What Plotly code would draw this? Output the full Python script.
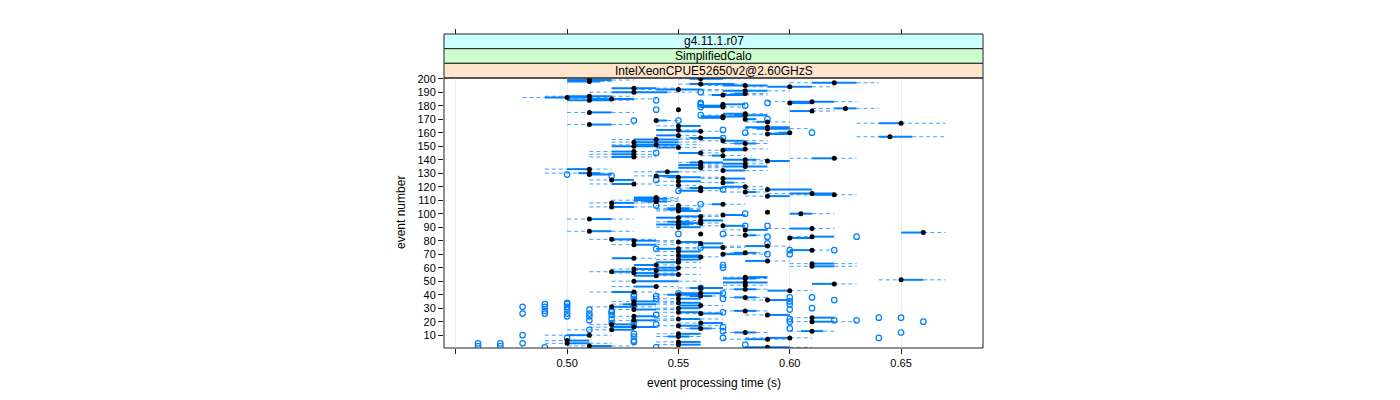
import plotly.graph_objects as go

# ---------------- data ----------------
events = list(range(1, 201))

med = [0.59, 0.51, 0.55, 0.50, 0.55, 0.50, 0.59, 0.60, 0.55, 0.51,
       0.55, 0.58, 0.61, 0.52, 0.56, 0.53, 0.55, 0.52, 0.56, 0.61,
       0.53, 0.55, 0.61, 0.53, 0.59, 0.56, 0.55, 0.58, 0.53, 0.55,
       0.52, 0.56, 0.53, 0.55, 0.53, 0.59, 0.55, 0.58, 0.56, 0.55,
       0.56, 0.53, 0.60, 0.58, 0.56, 0.54, 0.58, 0.62, 0.58, 0.53,
       0.65, 0.58, 0.58, 0.54, 0.55, 0.53, 0.52, 0.54, 0.53, 0.55,
       0.61, 0.54, 0.61, 0.55, 0.59, 0.55, 0.53, 0.56, 0.55, 0.57,
       0.58, 0.55, 0.61, 0.55, 0.57, 0.59, 0.53, 0.56, 0.55, 0.53,
       0.52, 0.60, 0.61, 0.58, 0.56, 0.66, 0.51, 0.58, 0.61, 0.55,
       0.57, 0.55, 0.56, 0.55, 0.56, 0.51, 0.55, 0.56, 0.57, 0.605,
       0.59, 0.55, 0.55, 0.55, 0.52, 0.55, 0.57, 0.52, 0.54, 0.54,
       0.54, 0.54, 0.59, 0.62, 0.61, 0.58, 0.56, 0.59, 0.56, 0.58,
       0.55, 0.53, 0.57, 0.55, 0.52, 0.57, 0.55, 0.54, 0.51, 0.51,
       0.545, 0.57, 0.51, 0.56, 0.58, 0.56, 0.58, 0.56, 0.59, 0.58,
       0.62, 0.53, 0.57, 0.53, 0.56, 0.53, 0.57, 0.58, 0.55, 0.53,
       0.54, 0.58, 0.53, 0.57, 0.54, 0.56, 0.645, 0.55, 0.59, 0.60,
       0.56, 0.55, 0.59, 0.59, 0.55, 0.51, 0.65, 0.59, 0.54, 0.58,
       0.57, 0.57, 0.58, 0.58, 0.51, 0.61, 0.55, 0.625, 0.57, 0.57,
       0.57, 0.60, 0.61, 0.51, 0.52, 0.50, 0.51, 0.57, 0.58, 0.53,
       0.58, 0.55, 0.53, 0.60, 0.58, 0.56, 0.62, 0.51, 0.51, 0.56]

q1 = [0.58, 0.51, 0.55, 0.50, 0.55, 0.50, 0.58, 0.59, 0.545, 0.50,
      0.55, 0.575, 0.605, 0.52, 0.555, 0.52, 0.55, 0.52, 0.56, 0.61,
      0.53, 0.55, 0.61, 0.53, 0.59, 0.56, 0.55, 0.575, 0.53, 0.55,
      0.52, 0.55, 0.525, 0.55, 0.53, 0.59, 0.55, 0.575, 0.555, 0.545,
      0.55, 0.52, 0.59, 0.575, 0.555, 0.53, 0.58, 0.61, 0.57, 0.53,
      0.65, 0.57, 0.58, 0.53, 0.54, 0.53, 0.52, 0.54, 0.53, 0.54,
      0.61, 0.53, 0.61, 0.54, 0.58, 0.55, 0.52, 0.55, 0.55, 0.57,
      0.575, 0.55, 0.60, 0.54, 0.56, 0.58, 0.53, 0.56, 0.55, 0.53,
      0.52, 0.60, 0.61, 0.58, 0.56, 0.65, 0.51, 0.58, 0.60, 0.55,
      0.57, 0.54, 0.55, 0.545, 0.56, 0.51, 0.54, 0.55, 0.57, 0.60,
      0.59, 0.55, 0.545, 0.545, 0.52, 0.55, 0.565, 0.52, 0.535, 0.53,
      0.53, 0.53, 0.59, 0.61, 0.60, 0.58, 0.55, 0.59, 0.555, 0.57,
      0.55, 0.52, 0.57, 0.55, 0.52, 0.57, 0.545, 0.54, 0.51, 0.505,
      0.54, 0.57, 0.50, 0.55, 0.57, 0.55, 0.57, 0.555, 0.59, 0.57,
      0.61, 0.52, 0.565, 0.52, 0.55, 0.52, 0.57, 0.57, 0.54, 0.52,
      0.53, 0.575, 0.53, 0.57, 0.53, 0.555, 0.64, 0.54, 0.59, 0.595,
      0.55, 0.54, 0.585, 0.58, 0.55, 0.51, 0.64, 0.585, 0.54, 0.58,
      0.56, 0.56, 0.575, 0.57, 0.51, 0.60, 0.55, 0.62, 0.56, 0.56,
      0.57, 0.60, 0.60, 0.50, 0.51, 0.49, 0.50, 0.565, 0.575, 0.52,
      0.57, 0.54, 0.52, 0.59, 0.57, 0.555, 0.61, 0.50, 0.50, 0.555]

q3 = [0.60, 0.52, 0.56, 0.51, 0.56, 0.51, 0.59, 0.60, 0.555, 0.51,
      0.56, 0.585, 0.615, 0.53, 0.565, 0.54, 0.56, 0.53, 0.57, 0.62,
      0.54, 0.56, 0.62, 0.54, 0.60, 0.57, 0.56, 0.585, 0.54, 0.56,
      0.53, 0.56, 0.54, 0.56, 0.54, 0.60, 0.56, 0.585, 0.565, 0.56,
      0.57, 0.53, 0.60, 0.585, 0.57, 0.54, 0.58, 0.62, 0.59, 0.55,
      0.66, 0.585, 0.59, 0.54, 0.55, 0.54, 0.53, 0.55, 0.54, 0.55,
      0.62, 0.54, 0.62, 0.55, 0.59, 0.56, 0.53, 0.56, 0.56, 0.58,
      0.585, 0.56, 0.61, 0.55, 0.57, 0.59, 0.54, 0.57, 0.56, 0.54,
      0.53, 0.61, 0.62, 0.585, 0.56, 0.66, 0.52, 0.59, 0.61, 0.56,
      0.58, 0.555, 0.56, 0.555, 0.57, 0.52, 0.55, 0.56, 0.58, 0.61,
      0.59, 0.56, 0.555, 0.555, 0.53, 0.55, 0.57, 0.53, 0.545, 0.54,
      0.545, 0.54, 0.60, 0.62, 0.62, 0.585, 0.56, 0.61, 0.57, 0.58,
      0.55, 0.53, 0.575, 0.56, 0.53, 0.58, 0.56, 0.55, 0.52, 0.515,
      0.55, 0.58, 0.51, 0.56, 0.59, 0.56, 0.58, 0.57, 0.60, 0.585,
      0.62, 0.53, 0.57, 0.53, 0.56, 0.53, 0.58, 0.58, 0.55, 0.54,
      0.55, 0.585, 0.55, 0.58, 0.55, 0.57, 0.655, 0.55, 0.60, 0.60,
      0.56, 0.55, 0.60, 0.60, 0.56, 0.52, 0.65, 0.59, 0.545, 0.585,
      0.57, 0.58, 0.59, 0.58, 0.52, 0.61, 0.55, 0.63, 0.57, 0.57,
      0.58, 0.61, 0.62, 0.52, 0.53, 0.51, 0.52, 0.58, 0.58, 0.545,
      0.59, 0.56, 0.54, 0.61, 0.59, 0.575, 0.63, 0.515, 0.52, 0.57]

lo = [0.58, 0.50, 0.54, 0.49, 0.54, 0.49, 0.57, 0.58, 0.54, 0.49,
      0.54, 0.57, 0.60, 0.50, 0.55, 0.51, 0.54, 0.51, 0.55, 0.60,
      0.52, 0.54, 0.60, 0.52, 0.58, 0.55, 0.54, 0.57, 0.52, 0.54,
      0.51, 0.55, 0.52, 0.54, 0.52, 0.58, 0.54, 0.57, 0.55, 0.54,
      0.55, 0.51, 0.59, 0.57, 0.55, 0.52, 0.57, 0.61, 0.57, 0.52,
      0.64, 0.57, 0.57, 0.53, 0.54, 0.52, 0.51, 0.53, 0.52, 0.54,
      0.60, 0.53, 0.60, 0.54, 0.58, 0.54, 0.52, 0.55, 0.54, 0.57,
      0.57, 0.54, 0.60, 0.54, 0.55, 0.57, 0.52, 0.55, 0.54, 0.52,
      0.51, 0.60, 0.60, 0.57, 0.56, 0.65, 0.50, 0.57, 0.59, 0.54,
      0.56, 0.54, 0.55, 0.54, 0.55, 0.50, 0.54, 0.55, 0.56, 0.60,
      0.59, 0.54, 0.54, 0.54, 0.51, 0.54, 0.56, 0.51, 0.53, 0.52,
      0.53, 0.53, 0.58, 0.60, 0.59, 0.57, 0.55, 0.58, 0.55, 0.57,
      0.54, 0.51, 0.56, 0.54, 0.51, 0.56, 0.54, 0.53, 0.51, 0.49,
      0.53, 0.56, 0.49, 0.55, 0.56, 0.55, 0.56, 0.55, 0.58, 0.57,
      0.60, 0.51, 0.56, 0.51, 0.55, 0.51, 0.56, 0.57, 0.54, 0.52,
      0.52, 0.57, 0.52, 0.56, 0.52, 0.55, 0.63, 0.54, 0.58, 0.59,
      0.55, 0.54, 0.58, 0.58, 0.54, 0.50, 0.63, 0.58, 0.54, 0.58,
      0.56, 0.56, 0.56, 0.57, 0.50, 0.60, 0.55, 0.61, 0.56, 0.56,
      0.57, 0.60, 0.59, 0.50, 0.50, 0.48, 0.49, 0.56, 0.57, 0.51,
      0.56, 0.53, 0.52, 0.58, 0.56, 0.55, 0.60, 0.50, 0.50, 0.55]

hi = [0.61, 0.53, 0.56, 0.52, 0.56, 0.51, 0.60, 0.61, 0.56, 0.52,
      0.56, 0.59, 0.62, 0.53, 0.57, 0.54, 0.57, 0.53, 0.57, 0.63,
      0.55, 0.57, 0.62, 0.55, 0.60, 0.57, 0.57, 0.59, 0.55, 0.56,
      0.54, 0.57, 0.55, 0.56, 0.55, 0.60, 0.56, 0.59, 0.57, 0.56,
      0.57, 0.54, 0.61, 0.59, 0.57, 0.55, 0.59, 0.63, 0.59, 0.56,
      0.67, 0.59, 0.59, 0.55, 0.56, 0.55, 0.53, 0.55, 0.55, 0.56,
      0.63, 0.55, 0.63, 0.56, 0.60, 0.56, 0.54, 0.57, 0.56, 0.59,
      0.59, 0.56, 0.62, 0.56, 0.58, 0.60, 0.55, 0.57, 0.56, 0.55,
      0.54, 0.61, 0.62, 0.59, 0.56, 0.67, 0.53, 0.59, 0.62, 0.56,
      0.58, 0.56, 0.57, 0.56, 0.57, 0.53, 0.56, 0.57, 0.58, 0.62,
      0.59, 0.56, 0.56, 0.56, 0.54, 0.56, 0.58, 0.54, 0.55, 0.55,
      0.55, 0.55, 0.60, 0.63, 0.62, 0.59, 0.57, 0.61, 0.58, 0.59,
      0.56, 0.54, 0.58, 0.56, 0.53, 0.58, 0.57, 0.55, 0.52, 0.52,
      0.56, 0.59, 0.52, 0.57, 0.59, 0.57, 0.59, 0.57, 0.60, 0.59,
      0.63, 0.54, 0.58, 0.54, 0.57, 0.54, 0.58, 0.59, 0.56, 0.55,
      0.56, 0.59, 0.56, 0.59, 0.56, 0.57, 0.67, 0.56, 0.60, 0.60,
      0.57, 0.56, 0.61, 0.60, 0.56, 0.53, 0.67, 0.60, 0.55, 0.585,
      0.57, 0.58, 0.59, 0.59, 0.53, 0.62, 0.55, 0.64, 0.58, 0.57,
      0.58, 0.61, 0.63, 0.53, 0.54, 0.52, 0.53, 0.59, 0.59, 0.56,
      0.60, 0.57, 0.55, 0.62, 0.59, 0.58, 0.64, 0.52, 0.53, 0.58]

out_event = [1, 1, 2, 2, 3, 4, 4, 4, 5, 8, 8, 9, 10, 12, 13, 14, 15, 16, 17,
             18, 19, 20, 21, 21, 21, 22, 23, 23, 24, 24, 25, 26, 26, 26, 26,
             27, 28, 29, 29, 30, 31, 31, 31, 32, 33, 33, 34, 35, 36, 37, 37,
             37, 38, 38, 39, 39, 40, 41, 41, 45, 60, 62, 70, 70, 73, 73, 74,
             75, 78, 83, 83, 85, 85, 91, 91, 100, 106, 107, 117, 118, 125,
             128, 129, 145, 156, 160, 160, 162, 169, 169, 170, 173, 177, 180,
             181, 182, 184, 190,
             22, 25, 28, 6, 11, 20, 8, 27, 20, 29, 33, 182, 179]
out_value = [0.49, 0.54, 0.46, 0.47, 0.58, 0.46, 0.47, 0.48, 0.53, 0.64, 0.50,
             0.53, 0.48, 0.65, 0.57, 0.51, 0.60, 0.57, 0.53, 0.54, 0.52, 0.66,
             0.62, 0.63, 0.51, 0.60, 0.64, 0.65, 0.51, 0.50, 0.54, 0.50, 0.51,
             0.48, 0.49, 0.52, 0.49, 0.50, 0.51, 0.61, 0.49, 0.50, 0.48, 0.53,
             0.50, 0.49, 0.50, 0.60, 0.62, 0.53, 0.54, 0.57, 0.60, 0.61, 0.53,
             0.54, 0.53, 0.55, 0.57, 0.56, 0.57, 0.57, 0.59, 0.60, 0.60, 0.62,
             0.54, 0.56, 0.59, 0.63, 0.59, 0.55, 0.57, 0.58, 0.59, 0.58, 0.54,
             0.56, 0.55, 0.57, 0.54, 0.52, 0.50, 0.54, 0.57, 0.58, 0.61, 0.57,
             0.53, 0.55, 0.59, 0.56, 0.54, 0.58, 0.56, 0.59, 0.54, 0.56,
             0.52, 0.52, 0.52, 0.53, 0.53, 0.53, 0.57, 0.57, 0.60, 0.60, 0.60,
             0.56, 0.56]

x_ticks = [0.45, 0.50, 0.55, 0.60, 0.65]
x_ticklabels = ["", "0.50", "0.55", "0.60", "0.65"]
y_ticks = [10, 20, 30, 40, 50, 60, 70, 80, 90, 100,
           110, 120, 130, 140, 150, 160, 170, 180, 190, 200]
strip_labels = ["g4.11.1.r07", "SimplifiedCalo", "IntelXeonCPUE52650v2@2.60GHzS"]
strip_colors = ["#ccffff", "#ccffcc", "#ffe5cc"]
x_title = "event processing time (s)"
y_title = "event number"

# ---------------- geometry / style ----------------
FONT = "Liberation Sans, Arial, Helvetica, sans-serif"
BLUE = "#0080ff"
W, H = 1400, 400
OFF = 8                        # page body margin offset
PW = 539                       # panel width in px
PH = 314                       # panel + strips height in px
ML, MT = 444 - OFF, 34 - OFF
MR = W - ML - PW
MB = H - MT - PH
PANEL_TOP = 270 / PH           # panel occupies bottom 270 px
STRIP_H = (1 - PANEL_TOP) / 3

# whiskers (dashed) and boxes (solid)
wx, wy, bx, by = [], [], [], []
for e, a, b, c, d in zip(events, lo, q1, q3, hi):
    if b > a:
        wx += [a, b, None]; wy += [e, e, None]
    if d > c:
        wx += [c, d, None]; wy += [e, e, None]
    if c > b:
        bx += [b, c, None]; by += [e, e, None]

fig = go.Figure()
fig.add_trace(go.Scatter(x=wx, y=wy, mode="lines",
                         line=dict(color="rgba(0,128,255,0.75)", width=1,
                                   dash="4px,3px"),
                         hoverinfo="skip", showlegend=False))
fig.add_trace(go.Scatter(x=bx, y=by, mode="lines",
                         line=dict(color=BLUE, width=2),
                         hoverinfo="skip", showlegend=False))
fig.add_trace(go.Scatter(x=out_value, y=out_event, mode="markers",
                         marker=dict(symbol="circle-open", size=5.5, color=BLUE,
                                     line=dict(width=1.2, color=BLUE)),
                         showlegend=False))
fig.add_trace(go.Scatter(x=med, y=events, mode="markers",
                         marker=dict(symbol="circle", size=5, color="black"),
                         showlegend=False))
# dummy trace for the top tick axis
fig.add_trace(go.Scatter(x=[None], y=[None], xaxis="x2", yaxis="y",
                         showlegend=False, hoverinfo="skip"))

xr = [0.4447, 0.6868]
shapes = [dict(type="rect", xref="paper", yref="paper", x0=0, x1=1, y0=0,
               y1=PANEL_TOP, line=dict(color="#222", width=1),
               fillcolor="rgba(0,0,0,0)", layer="above")]
annotations = []
for i, (lab, col) in enumerate(zip(strip_labels, strip_colors)):
    y1 = 1 - i * STRIP_H
    y0 = 1 - (i + 1) * STRIP_H
    shapes.append(dict(type="rect", xref="paper", yref="paper", x0=0, x1=1,
                       y0=y0, y1=y1, fillcolor=col,
                       line=dict(color="#222", width=1), layer="below"))
    annotations.append(dict(xref="paper", yref="paper", x=0.5, y=(y0 + y1) / 2,
                            text=lab, showarrow=False, xanchor="center",
                            yanchor="middle",
                            font=dict(family=FONT, size=12, color="black")))

annotations.append(dict(xref="paper", yref="paper", x=0.5, y=(348 - 383) / PH,
                        text=x_title, showarrow=False, xanchor="center",
                        yanchor="middle",
                        font=dict(family=FONT, size=12, color="black")))
annotations.append(dict(xref="paper", yref="paper", x=(401 - 444) / PW,
                        y=PANEL_TOP / 2, text=y_title, showarrow=False,
                        textangle=-90, xanchor="center", yanchor="middle",
                        font=dict(family=FONT, size=12, color="black")))

fig.update_layout(
    width=W, height=H,
    margin=dict(l=ML, r=MR, t=MT, b=MB, autoexpand=False),
    paper_bgcolor="white", plot_bgcolor="white",
    font=dict(family=FONT, size=11, color="black"),
    xaxis=dict(range=xr, tickvals=x_ticks, ticktext=x_ticklabels,
               ticks="outside", ticklen=5, tickcolor="#222",
               showgrid=True, gridcolor="#ebebeb", gridwidth=1,
               zeroline=False, showline=False, anchor="y",
               tickfont=dict(family=FONT, size=11, color="black")),
    xaxis2=dict(range=xr, tickvals=x_ticks, ticktext=x_ticklabels,
                overlaying="x", anchor="free", position=1, side="top",
                ticks="outside", ticklen=5, tickcolor="#222",
                showticklabels=False, showgrid=False, zeroline=False,
                showline=False),
    yaxis=dict(range=[0.5, 200.5], domain=[0, PANEL_TOP], tickvals=y_ticks,
               ticktext=[str(v) for v in y_ticks],
               ticks="outside", ticklen=5, tickcolor="#222",
               showgrid=False, zeroline=False, showline=False,
               tickfont=dict(family=FONT, size=11, color="black")),
    shapes=shapes, annotations=annotations,
)

fig.write_html("out.html")
